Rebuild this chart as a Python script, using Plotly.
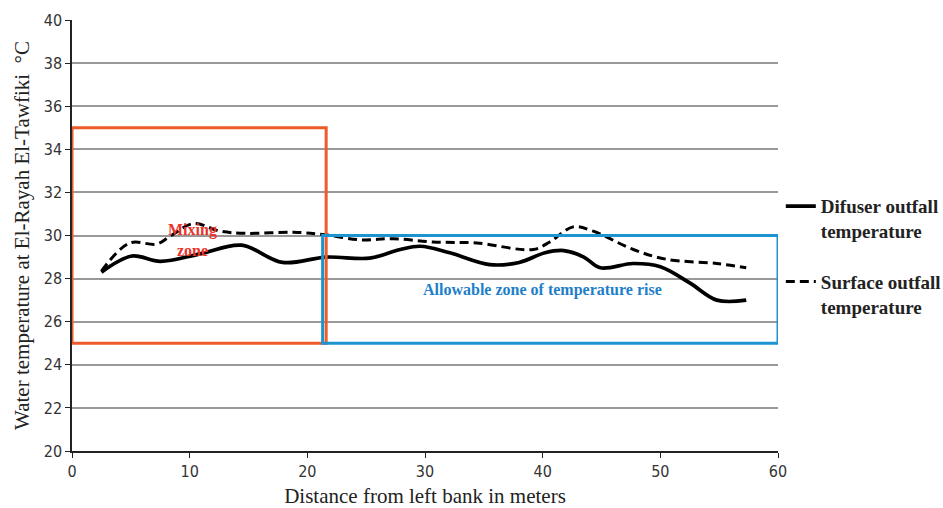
import plotly.graph_objects as go

# Distance from left bank (m) and measured water temperatures (°C)
diffuser_x = [2.5, 5.1, 7.5, 10.9, 14.4, 17.9, 21.6, 25.3, 27.9, 29.6, 32.1, 35.5, 38.0, 40.2, 41.8, 43.5, 44.9, 47.7, 50.0, 52.5, 54.8, 57.3]
diffuser_t = [28.3, 29.05, 28.8, 29.15, 29.55, 28.75, 29.0, 28.95, 29.35, 29.5, 29.2, 28.65, 28.75, 29.2, 29.3, 29.0, 28.5, 28.7, 28.55, 27.8, 27.0, 27.0]

surface_x = [2.5, 4.9, 7.2, 8.3, 10.3, 12.6, 14.8, 18.8, 21.3, 24.5, 27.3, 30.7, 34.4, 39.2, 40.6, 42.6, 44.3, 47.7, 50.5, 54.8, 57.3]
surface_t = [28.35, 29.65, 29.6, 29.95, 30.55, 30.2, 30.1, 30.15, 30.05, 29.8, 29.85, 29.7, 29.65, 29.35, 29.7, 30.4, 30.2, 29.35, 28.9, 28.7, 28.5]

x_ticks = [0, 10, 20, 30, 40, 50, 60]
y_ticks = [20, 22, 24, 26, 28, 30, 32, 34, 36, 38, 40]

# Zones: (x0, x1, y0, y1)
mixing_zone = (0, 21.6, 25, 35)
allowable_zone = (21.3, 60, 25, 30)

serif = "Liberation Serif, Times New Roman, serif"
tickfam = "DejaVu Sans Condensed, DejaVu Sans, sans-serif"

fig = go.Figure()
fig.add_trace(go.Scatter(
    x=diffuser_x, y=diffuser_t, mode="lines",
    name="<b>Difuser outfall<br>temperature</b>",
    line=dict(color="black", width=3.7, shape="spline", smoothing=1.0),
    legendgroup="a",
))
fig.add_trace(go.Scatter(
    x=surface_x, y=surface_t, mode="lines",
    name="<b>Surface outfall<br>temperature</b>",
    line=dict(color="black", width=3, shape="spline", smoothing=1.0, dash="9px,5px"),
    legendgroup="b",
))

fig.add_shape(type="rect", x0=mixing_zone[0], x1=mixing_zone[1], y0=mixing_zone[2], y1=mixing_zone[3],
              line=dict(color="#EE5A2A", width=3), layer="above")
fig.add_shape(type="rect", x0=allowable_zone[0], x1=allowable_zone[1], y0=allowable_zone[2], y1=allowable_zone[3],
              line=dict(color="#1E93D2", width=3), layer="above")

fig.add_annotation(x=10.2, y=29.8, text="<b>Mixing<br>zone</b>", showarrow=False,
                   font=dict(family=serif, size=16, color="#E8342A"))
fig.add_annotation(x=40.0, y=27.45, text="<b>Allowable zone of temperature rise</b>", showarrow=False,
                   font=dict(family=serif, size=16, color="#1E7FC8"))

fig.update_layout(
    width=943, height=508,
    margin=dict(l=72, r=165, t=20, b=57, autoexpand=False),
    paper_bgcolor="white", plot_bgcolor="white",
    showlegend=True,
    legend=dict(
        x=1.004, y=0.612, xanchor="left", yanchor="top",
        font=dict(family=serif, size=19, color="#222"),
        valign="top", traceorder="grouped", tracegroupgap=23,
        bgcolor="rgba(0,0,0,0)",
    ),
    xaxis=dict(
        range=[0, 60], tickvals=x_ticks, ticks="outside", ticklen=5, tickcolor="#222",
        showline=True, linecolor="#222", linewidth=1.5, showgrid=False, zeroline=False,
        tickfont=dict(family=tickfam, size=16, color="#333"), automargin=False,
        title=dict(text="Distance from left bank in meters", font=dict(family=serif, size=21, color="#222"), standoff=14),
    ),
    yaxis=dict(
        range=[20, 40], tickvals=y_ticks, ticks="outside", ticklen=5, tickcolor="#222",
        showline=True, linecolor="#222", linewidth=1.5,
        showgrid=True, gridcolor="#999", gridwidth=1.5, zeroline=False,
        tickfont=dict(family=tickfam, size=16, color="#333"), automargin=False,
        title=dict(text="Water temperature at El-Rayah El-Tawfiki  °C", font=dict(family=serif, size=21, color="#222"), standoff=8),
    ),
)

fig.write_html("out.html")
